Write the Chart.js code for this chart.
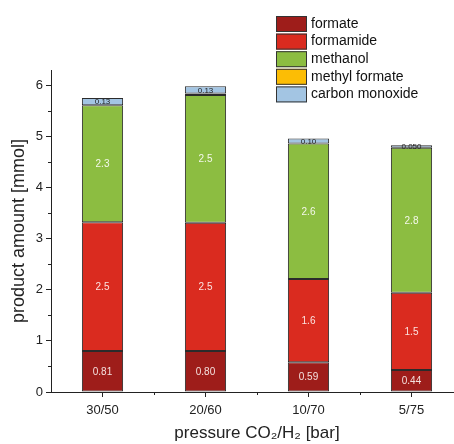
<!DOCTYPE html>
<html>
<head>
<meta charset="utf-8">
<script src="https://cdn.jsdelivr.net/npm/chart.js@4/dist/chart.umd.min.js"></script>
<style>
  body { margin: 0; background: #fff; overflow: hidden; }
  #wrap { width: 466px; height: 444px; }
</style>
</head>
<body>
<div id="wrap"><canvas id="myChart" width="466" height="444"></canvas></div>
<script>
// values (mmol)
const pressures = ['30/50', '20/60', '10/70', '5/75'];
const formate = [0.80, 0.80, 0.58, 0.43];
const formamide = [2.52, 2.51, 1.63, 1.51];
const methanol = [2.29, 2.50, 2.65, 2.84];
const methylFormate = [null, 0.03, null, null];
const carbonMonoxide = [0.14, 0.14, 0.10, 0.05];
const formateLabels = ['0.81', '0.80', '0.59', '0.44'];
const formamideLabels = ['2.5', '2.5', '1.6', '1.5'];
const methanolLabels = ['2.3', '2.5', '2.6', '2.8'];
const coLabels = ['0.13', '0.13', '0.10', '0.050'];
const yTicks = [0, 1, 2, 3, 4, 5, 6];

const font = 'Arial, "Liberation Sans", sans-serif';

// white / dark numbers inside the segments
const segLabels = {
	id: 'segLabels',
	afterDatasetsDraw(chart) {
		const ctx = chart.ctx;
		ctx.save();
		ctx.textAlign = 'center';
		ctx.textBaseline = 'middle';
		chart.data.datasets.forEach(function (ds, i) {
			if (!ds.valueLabels) return;
			chart.getDatasetMeta(i).data.forEach(function (bar, j) {
				const y = (bar.y + bar.base) / 2;
				ctx.fillStyle = ds.labelColor;
				ctx.font = ds.labelFont;
				ctx.fillText(ds.valueLabels[j], bar.x, y + 0.5);
			});
		});
		ctx.restore();
	}
};

// minor ticks + legend box in the upper right
const extras = {
	id: 'extras',
	afterDraw(chart) {
		const ctx = chart.ctx;
		const x = chart.scales.x, y = chart.scales.y;
		ctx.save();
		ctx.strokeStyle = '#222';
		ctx.lineWidth = 1;
		for (let v = 0.5; v < 6.3; v += 1) {
			const py = Math.round(y.getPixelForValue(v)) + 0.5;
			ctx.beginPath(); ctx.moveTo(x.left - 3, py); ctx.lineTo(x.left, py); ctx.stroke();
		}
		for (let k = 0; k < pressures.length - 1; k++) {
			const px = Math.round((x.getPixelForValue(k) + x.getPixelForValue(k + 1)) / 2) + 0.5;
			ctx.beginPath(); ctx.moveTo(px, y.bottom); ctx.lineTo(px, y.bottom + 3); ctx.stroke();
		}
		// legend
		const items = chart.data.datasets;
		ctx.font = '14px ' + font;
		ctx.textBaseline = 'middle';
		ctx.textAlign = 'left';
		items.forEach(function (ds, i) {
			const top = 16 + i * 17.6;
			ctx.fillStyle = ds.backgroundColor;
			ctx.fillRect(276, top, 31, 16);
			ctx.strokeStyle = '#333';
			ctx.strokeRect(276.5, top + 0.5, 30, 15);
			ctx.fillStyle = '#111';
			ctx.fillText(ds.label, 311, top + 8);
		});
		ctx.restore();
	}
};

const ctx = document.getElementById('myChart').getContext('2d');
const myChart = new Chart(ctx, {
	type: 'bar',
	data: {
		labels: pressures,
		datasets: [
			{ label: 'formate', data: formate, backgroundColor: '#9e1d1a',
			  valueLabels: formateLabels, labelColor: '#f4e0de', labelFont: '10px ' + font },
			{ label: 'formamide', data: formamide, backgroundColor: '#da2b1f',
			  valueLabels: formamideLabels, labelColor: '#fbe3e0', labelFont: '10px ' + font },
			{ label: 'methanol', data: methanol, backgroundColor: '#8cbd41',
			  valueLabels: methanolLabels, labelColor: '#f4f8ea', labelFont: '10px ' + font },
			{ label: 'methyl formate', data: methylFormate, backgroundColor: '#fcbd05' },
			{ label: 'carbon monoxide', data: carbonMonoxide, backgroundColor: '#a3c5e3',
			  valueLabels: coLabels, labelColor: '#222', labelFont: '8px ' + font }
		].map(function (d) {
			d.borderColor = '#2b2b2b';
			d.borderWidth = 1;
			d.borderSkipped = false;
			d.categoryPercentage = 0.8;
			d.barPercentage = 0.5;
			return d;
		})
	},
	options: {
		responsive: false,
		animation: false,
		layout: { padding: { top: 70, right: 3, left: 0, bottom: 0 } },
		plugins: { legend: { display: false }, tooltip: { enabled: false } },
		scales: {
			x: {
				stacked: true,
				grid: { offset: false, drawOnChartArea: false, tickLength: 5, tickColor: '#222' },
				border: { color: '#222', width: 1 },
				ticks: { color: '#222', font: { size: 13, family: font }, padding: 6, maxRotation: 0 },
				title: { display: true, text: 'pressure CO\u2082/H\u2082 [bar]', color: '#222',
					font: { size: 17, family: font }, padding: { top: 7, bottom: 0 } },
				afterFit: function (s) { s.height = 52; }
			},
			y: {
				stacked: true,
				min: 0,
				max: 6.3,
				afterBuildTicks: function (s) { s.ticks = yTicks.map(v => ({ value: v })); },
				grid: { drawOnChartArea: false, tickLength: 5, tickColor: '#222' },
				border: { color: '#222', width: 1 },
				ticks: { color: '#222', font: { size: 13, family: font }, padding: 3 },
				title: { display: true, text: 'product amount [mmol]', color: '#222',
					font: { size: 18, family: font }, padding: { top: 8, bottom: 0 } },
				afterFit: function (s) { s.width = 51; }
			}
		}
	},
	plugins: [segLabels, extras]
});
</script>
</body>
</html>
